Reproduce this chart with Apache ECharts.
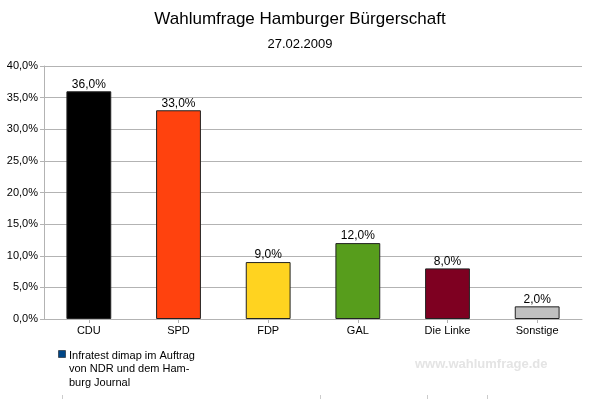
<!DOCTYPE html>
<html>
<head>
<meta charset="utf-8">
<script src="https://cdn.jsdelivr.net/npm/echarts@6/dist/echarts.min.js"></script>
<style>
  html, body { margin: 0; padding: 0; background: #fff; }
  #chart { width: 600px; height: 399px; }
</style>
</head>
<body>
<div id="chart"></div>
<script>
const parties = ['CDU', 'SPD', 'FDP', 'GAL', 'Die Linke', 'Sonstige'];
const votes = [36.0, 33.0, 9.0, 12.0, 8.0, 2.0];
const partyColors = ['#000000', '#ff420e', '#ffd320', '#579d1c', '#7e0021', '#c0c0c0'];
const sourceName = 'Infratest dimap im Auftrag\nvon NDR und dem Ham-\nburg Journal';

const fmt = v => v.toFixed(1).replace('.', ',') + '%';
const font = 'Liberation Sans, Arial, sans-serif';

const chart = echarts.init(document.getElementById('chart'), null, { renderer: 'canvas' });

const option = {
  animation: false,
  textStyle: { fontFamily: font },
  title: {
    text: 'Wahlumfrage Hamburger Bürgerschaft',
    subtext: '27.02.2009',
    left: 'center',
    top: 6,
    itemGap: 10,
    textStyle: { fontFamily: font, fontSize: 17, fontWeight: 'normal', color: '#000' },
    subtextStyle: { fontFamily: font, fontSize: 13, color: '#000' }
  },
  grid: { left: 44, right: 18, top: 66, bottom: 80, containLabel: false },
  // legend text only, the square is drawn below so it sits on the first line
  legend: {
    left: 59,
    top: 344,
    icon: 'none',
    itemWidth: 0,
    itemHeight: 0,
    itemGap: 0,
    textStyle: { fontFamily: font, fontSize: 11, color: '#000', lineHeight: 13.5 },
    data: [sourceName]
  },
  xAxis: {
    type: 'category',
    data: parties,
    axisLine: { lineStyle: { color: '#b3b3b3' } },
    axisTick: { show: true, alignWithLabel: true, length: 4, lineStyle: { color: '#b3b3b3' } },
    axisLabel: { color: '#000', fontSize: 11, margin: 6 }
  },
  yAxis: {
    type: 'value',
    min: 0,
    max: 40,
    interval: 5,
    axisLine: { show: true, lineStyle: { color: '#b3b3b3' } },
    axisTick: { show: true, length: 4, lineStyle: { color: '#b3b3b3' } },
    axisLabel: { color: '#000', fontSize: 11, margin: 6, formatter: v => fmt(v) },
    splitLine: { lineStyle: { color: '#b3b3b3' } }
  },
  series: [{
    name: sourceName,
    type: 'bar',
    barWidth: '50%',
    data: votes.map((v, i) => ({ value: v, itemStyle: { color: partyColors[i] } })),
    itemStyle: { borderColor: '#222', borderWidth: 1 },
    label: {
      show: true,
      position: 'top',
      distance: 1,
      color: '#000',
      fontSize: 12,
      formatter: p => fmt(p.value)
    }
  }],
  graphic: [
    {
      type: 'rect',
      shape: { x: 58.5, y: 350.5, width: 7, height: 7 },
      style: { fill: '#004586', stroke: '#000', lineWidth: 0.5 }
    },
    {
      type: 'text',
      left: 415,
      top: 358,
      style: { text: 'www.wahlumfrage.de', fill: '#e4e4e4', font: 'bold 13px ' + font }
    },
    { type: 'line', shape: { x1: 62.5, y1: 395, x2: 62.5, y2: 399 }, style: { stroke: '#ccc' } },
    { type: 'line', shape: { x1: 320.5, y1: 395, x2: 320.5, y2: 399 }, style: { stroke: '#ccc' } },
    { type: 'line', shape: { x1: 427.5, y1: 395, x2: 427.5, y2: 399 }, style: { stroke: '#ccc' } },
    { type: 'line', shape: { x1: 487.5, y1: 395, x2: 487.5, y2: 399 }, style: { stroke: '#ccc' } }
  ]
};

chart.setOption(option);
</script>
</body>
</html>
